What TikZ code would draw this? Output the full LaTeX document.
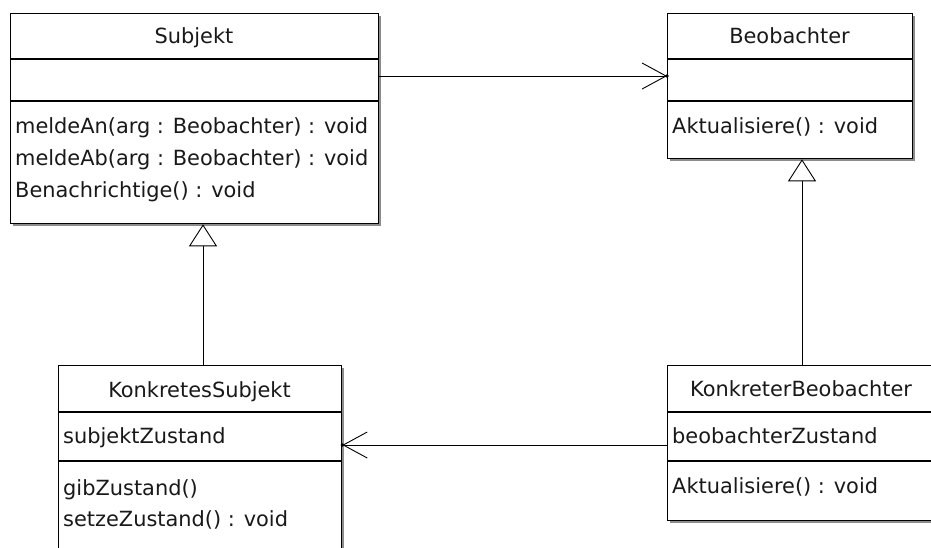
\documentclass[tikz,border=0pt]{standalone}
\usepackage{fontspec}
\setmainfont{DejaVu Sans}
\usetikzlibrary{arrows.meta,shadows}
\begin{document}
\begin{tikzpicture}[x=1pt,y=-1pt,
  umlbox/.style={draw=black, line width=1.3pt, fill=white, inner sep=0pt, anchor=north west,
    drop shadow={shadow xshift=2.5pt, shadow yshift=-2.5pt, fill=black!45, opacity=1}},
  sepline/.style={draw=black, line width=1.3pt},
  txt/.style={inner sep=0pt, font=\fontsize{20.9pt}{25pt}\selectfont, text=black!90},
  ttl/.style={txt, anchor=base},
  item/.style={txt, anchor=base west},
  assoc/.style={draw=black, line width=0.9pt, -{Straight Barb[length=24pt, width=26pt, line width=0.9pt]}},
  gen/.style={draw=black, line width=0.9pt, -{Triangle[open, length=22pt, width=28pt, line width=0.9pt, fill=white]}},
  enddot/.style={fill=black}
]
\useasboundingbox (0,0) rectangle (931,547);
\clip (0,0) rectangle (931,547);

% helper y-levels
\coordinate (yA) at (0,76);
\coordinate (yB) at (0,445);

% ---- Subjekt ----
\node[umlbox, minimum width=368pt, minimum height=210pt] (subj) at (10,13) {};
\draw[sepline] (10,59) -- (378,59);
\draw[sepline] (10,101) -- (378,101);
\node[ttl] (subjT) at (194,43) {Subjekt};
\node[item] (subjM1) at (15,133) {meldeAn(arg : Beobachter) : void};
\node[item] (subjM2) at (15,165) {meldeAb(arg : Beobachter) : void};
\node[item] (subjM3) at (15,197) {Benachrichtige() : void};

% ---- Beobachter ----
\node[umlbox, minimum width=245pt, minimum height=145pt] (beo) at (667,13) {};
\draw[sepline] (667,59) -- (912,59);
\draw[sepline] (667,101) -- (912,101);
\node[ttl] (beoT) at (789.5,43) {Beobachter};
\node[item] (beoM1) at (672,133) {Aktualisiere() : void};

% ---- KonkretesSubjekt ----
\node[umlbox, minimum width=283pt, minimum height=205pt] (ks) at (58,365) {};
\draw[sepline] (58,412) -- (341,412);
\draw[sepline] (58,461) -- (341,461);
\node[ttl] (ksT) at (199.5,397) {KonkretesSubjekt};
\node[item] (ksA1) at (63,443) {subjektZustand};
\node[item] (ksM1) at (63,495) {gibZustand()};
\node[item] (ksM2) at (63,526) {setzeZustand() : void};

% ---- KonkreterBeobachter ----
\node[umlbox, minimum width=269pt, minimum height=155pt] (kb) at (667,365) {};
\draw[sepline] (667,412) -- (936,412);
\draw[sepline] (667,461) -- (936,461);
\node[ttl] (kbT) at (801,396) {KonkreterBeobachter};
\node[item] (kbA1) at (672,443) {beobachterZustand};
\node[item] (kbM1) at (672,493) {Aktualisiere() : void};

% ---- connectors ----
\coordinate (genS) at (203,0);
\coordinate (genB) at (802,0);
\draw[gen] (ks.north -| genS) -- (subj.south -| genS);
\draw[gen] (kb.north -| genB) -- (beo.south -| genB);
\draw[assoc] (subj.east |- yA) -- (beo.west |- yA);
\fill[enddot] (beo.west |- yA) circle (1.8pt);
\draw[assoc] (kb.west |- yB) -- (ks.east |- yB);
\fill[enddot] (ks.east |- yB) circle (1.8pt);
\end{tikzpicture}
\end{document}
